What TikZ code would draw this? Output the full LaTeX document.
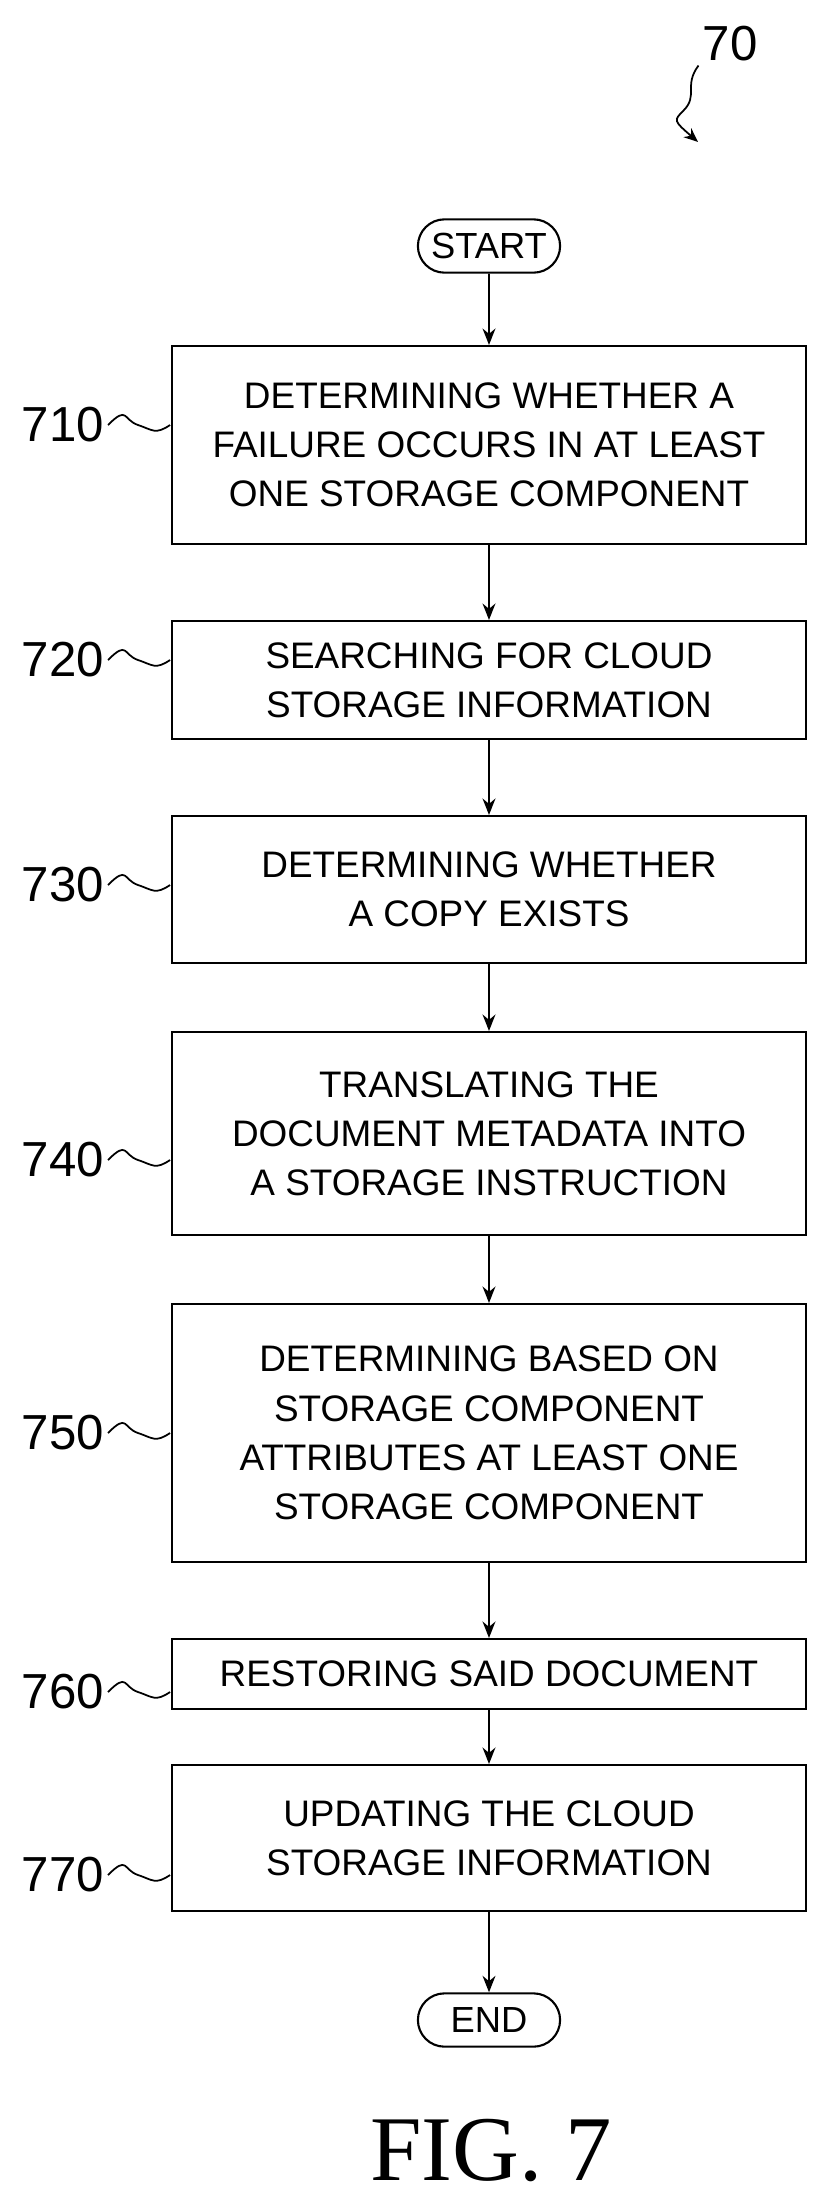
\documentclass[tikz,border=0pt]{standalone}
\usepackage{fontspec}
\setmainfont{Liberation Sans}
\newfontfamily\figfont{Liberation Serif}
\usetikzlibrary{arrows.meta,shapes.misc}
\begin{document}
\begin{tikzpicture}[x=0.03cm,y=-0.03cm,
  box/.style={draw,line width=1.8pt,align=center,font=\fontsize{31.5}{42}\selectfont},
  term/.style={draw,line width=1.8pt,rounded rectangle,minimum width=4.5cm,minimum height=1.6cm,font=\fontsize{31}{34}\selectfont},
  arr/.style={line width=1.6pt,-{Stealth[length=14pt,width=11pt]}},
  lab/.style={font=\fontsize{42}{46}\selectfont},
  sq/.style={line width=1.5pt}]
\useasboundingbox (0,0) rectangle (837,2208);
\def\boxat#1#2#3#4{\node[box,minimum width=19cm,minimum height={(#3-#2)*0.03cm}] (#1) at (489,{(#2+#3)/2}) {#4};}
\node[term] (start) at (489,246) {START};
\boxat{b710}{346}{544}{DETERMINING WHETHER A\\FAILURE OCCURS IN AT LEAST\\ONE STORAGE COMPONENT}
\boxat{b720}{621}{739}{SEARCHING FOR CLOUD\\STORAGE INFORMATION}
\boxat{b730}{816}{963}{DETERMINING WHETHER\\A COPY EXISTS}
\boxat{b740}{1032}{1235}{TRANSLATING THE\\DOCUMENT METADATA INTO\\A STORAGE INSTRUCTION}
\boxat{b750}{1304}{1562}{DETERMINING BASED ON\\STORAGE COMPONENT\\ATTRIBUTES AT LEAST ONE\\STORAGE COMPONENT}
\boxat{b760}{1639}{1709}{RESTORING SAID DOCUMENT}
\boxat{b770}{1765}{1911}{UPDATING THE CLOUD\\STORAGE INFORMATION}
\node[term] (end) at (489,2020) {END};
\draw[arr] (start) -- (b710);
\draw[arr] (b710) -- (b720);
\draw[arr] (b720) -- (b730);
\draw[arr] (b730) -- (b740);
\draw[arr] (b740) -- (b750);
\draw[arr] (b750) -- (b760);
\draw[arr] (b760) -- (b770);
\draw[arr] (b770) -- (end);
\foreach \n/\y in {710/425,720/660,730/885,740/1160,750/1433,760/1692,770/1875}{
  \node[lab,anchor=east] (l\n) at (108,\y) {\n};
  \draw[sq] (l\n.east) .. controls +(20,-20) and +(-15,-5) .. +(30,0) .. controls +(15,5) and +(-15,10) .. ([xshift=-1pt]b\n.west|-l\n.east);
}
\node[lab] (l70) at (730,44) {70};
\coordinate (t70) at (698,142);
\draw[line width=1.5pt,-{Stealth[length=12pt,width=10pt]}] (l70.south west) .. controls +(-15,20) and +(15,-15) .. +(-15,45) .. controls +(-10,10) .. (t70);
\node[font=\figfont\fontsize{79}{84}\selectfont] (fig) at (491,2150) {FIG. 7};
\end{tikzpicture}
\end{document}
